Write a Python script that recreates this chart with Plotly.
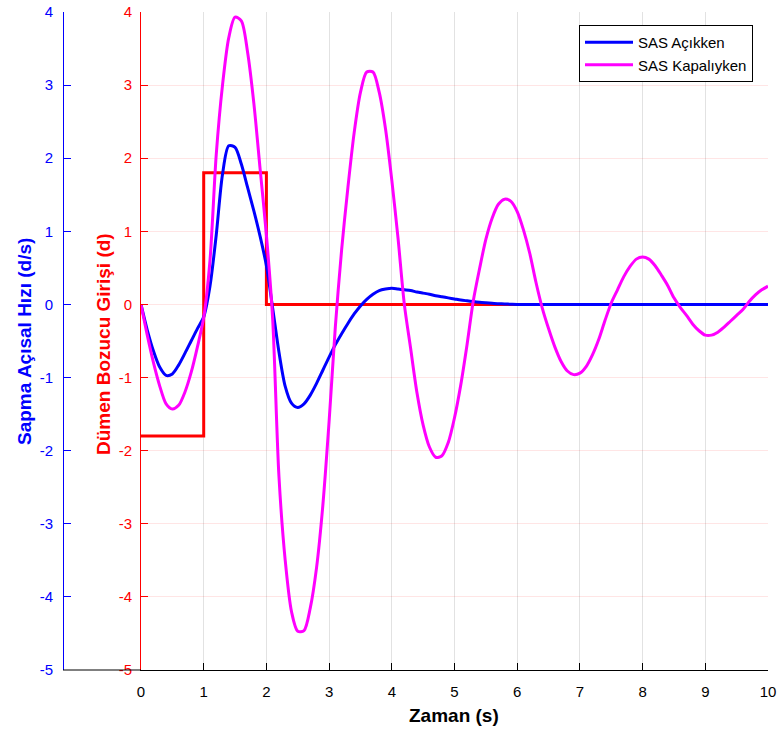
import plotly.graph_objects as go

# ---------------- data ----------------
x_ticks = [0, 1, 2, 3, 4, 5, 6, 7, 8, 9, 10]
x_tick_labels = ["0", "1", "2", "3", "4", "5", "6", "7", "8", "9", "10"]
y_ticks = [-5, -4, -3, -2, -1, 0, 1, 2, 3, 4]
y_tick_labels = ["-5", "-4", "-3", "-2", "-1", "0", "1", "2", "3", "4"]

# rudder disturbance input (step)
t_rudder = [0, 1, 2, 10]
v_rudder = [-1.8, 1.8, 0, 0]

# sample times for the yaw-rate curves (s)
t_samples = [0.0, 0.1, 0.2, 0.3, 0.4, 0.5, 0.6, 0.7, 0.8, 0.9,
             1.0, 1.1, 1.2, 1.3, 1.4, 1.5, 1.6, 1.7, 1.8, 1.9,
             2.0, 2.1, 2.2, 2.3, 2.4, 2.5, 2.6, 2.7, 2.8, 2.9,
             3.0, 3.1, 3.2, 3.3, 3.4, 3.5, 3.6, 3.7, 3.8, 3.9,
             4.0, 4.1, 4.2, 4.3, 4.4, 4.5, 4.6, 4.7, 4.8, 4.9,
             5.0, 5.1, 5.2, 5.3, 5.4, 5.5, 5.6, 5.7, 5.8, 5.9,
             6.0, 6.1, 6.2, 6.3, 6.4, 6.5, 6.6, 6.7, 6.8, 6.9,
             7.0, 7.1, 7.2, 7.3, 7.4, 7.5, 7.6, 7.7, 7.8, 7.9,
             8.0, 8.1, 8.2, 8.3, 8.4, 8.5, 8.6, 8.7, 8.8, 8.9,
             9.0, 9.1, 9.2, 9.3, 9.4, 9.5, 9.6, 9.7, 9.8, 9.9,
             10.0]

# yaw rate, SAS on (d/s)
v_sas_on = [0.0, -0.35, -0.64, -0.86, -0.97, -0.95, -0.83, -0.67, -0.5, -0.33,
            -0.17, 0.25, 0.95, 1.78, 2.17, 2.15, 1.92, 1.6, 1.28, 0.93,
            0.53, -0.05, -0.65, -1.12, -1.35, -1.41, -1.36, -1.24, -1.08, -0.9,
            -0.72, -0.55, -0.4, -0.26, -0.13, -0.02, 0.07, 0.14, 0.19, 0.21,
            0.22, 0.21, 0.2, 0.19, 0.17, 0.155, 0.14, 0.12, 0.105, 0.09,
            0.075, 0.06, 0.05, 0.04, 0.03, 0.022, 0.015, 0.01, 0.006, 0.003,
            0.0, 0.0, 0.0, 0.0, 0.0, 0.0, 0.0, 0.0, 0.0, 0.0,
            0.0, 0.0, 0.0, 0.0, 0.0, 0.0, 0.0, 0.0, 0.0, 0.0,
            0.0, 0.0, 0.0, 0.0, 0.0, 0.0, 0.0, 0.0, 0.0, 0.0,
            0.0, 0.0, 0.0, 0.0, 0.0, 0.0, 0.0, 0.0, 0.0, 0.0,
            0.0]

# yaw rate, SAS off (d/s)
v_sas_off = [0.0, -0.42, -0.8, -1.12, -1.36, -1.43, -1.38, -1.2, -0.93, -0.58,
             -0.18, 0.6, 2.05, 3.0, 3.65, 3.93, 3.88, 3.45, 2.75, 1.85,
             0.95, -0.2, -2.35, -3.5, -4.2, -4.47, -4.46, -4.15, -3.6, -2.75,
             -1.6, -0.3, 0.75, 1.6, 2.35, 2.9, 3.18, 3.18, 2.9, 2.4,
             1.7, 0.9, 0.0, -0.6, -1.2, -1.65, -1.95, -2.09, -2.07, -1.89,
             -1.55, -1.1, -0.55, 0.05, 0.49, 0.89, 1.18, 1.37, 1.44, 1.41,
             1.27, 1.02, 0.7, 0.3, -0.05, -0.33, -0.58, -0.78, -0.91, -0.96,
             -0.94, -0.85, -0.69, -0.48, -0.22, 0.02, 0.2, 0.38, 0.52, 0.62,
             0.65, 0.62, 0.53, 0.4, 0.26, 0.09, -0.04, -0.15, -0.27, -0.36,
             -0.42, -0.42, -0.38, -0.31, -0.23, -0.15, -0.07, 0.04, 0.13, 0.2,
             0.25]

# ---------------- layout constants (screen pixels) ----------------
W, H = 781, 730
PL, PR, PT, PB = 141, 768, 12, 670
BLUE_AXIS_X = 63
FONT = "Liberation Sans, Arial, sans-serif"


def px_x(p):
    return p / W


def px_y(p):
    return (PB - p) / (PB - PT)


fig = go.Figure()

fig.add_trace(go.Scatter(x=t_rudder, y=v_rudder, mode="lines", line_shape="hv",
                         line=dict(color="#ff0000", width=3), showlegend=False,
                         yaxis="y"))
fig.add_trace(go.Scatter(x=t_samples, y=v_sas_on, mode="lines", name="SAS Açıkken",
                         line=dict(color="#0000ff", width=3, shape="spline", smoothing=0.8),
                         yaxis="y2"))
fig.add_trace(go.Scatter(x=t_samples, y=v_sas_off, mode="lines", name="SAS Kapalıyken",
                         line=dict(color="#ff00ff", width=3, shape="spline", smoothing=0.8),
                         yaxis="y2"))

fig.update_layout(
    template="none",
    width=W, height=H, autosize=False,
    margin=dict(l=0, r=0, t=PT, b=H - PB, pad=0, autoexpand=False),
    paper_bgcolor="white", plot_bgcolor="white",
    font=dict(family=FONT, size=15, color="black"),
    xaxis=dict(domain=[PL / W, PR / W], range=[0, 10],
               tickvals=x_ticks, ticktext=x_tick_labels,
               automargin=False,
               ticks="inside", ticklen=7, tickcolor="black", tickwidth=1,
               showgrid=True, gridcolor="#e2e2e2", gridwidth=1,
               showline=True, linecolor="black", linewidth=1, zeroline=False,
               ticklabelstandoff=8, ticklabeloverflow="allow",
               tickfont=dict(size=15, color="black")),
    yaxis=dict(range=[-5, 4], tickvals=y_ticks, ticktext=y_tick_labels,
               anchor="x", automargin=False,
               ticks="inside", ticklen=7, tickcolor="#ff0000", tickwidth=1,
               showgrid=True, gridcolor="rgba(255,0,0,0.1)", gridwidth=1,
               showline=True, linecolor="#ff0000", linewidth=1, zeroline=False,
               ticklabeloverflow="allow",
               tickfont=dict(size=15, color="#ff0000"), ticklabelstandoff=5),
    yaxis2=dict(range=[-5, 4], tickvals=y_ticks, ticktext=y_tick_labels,
                overlaying="y", side="left",
                anchor="free", position=BLUE_AXIS_X / W, automargin=False,
                ticks="inside", ticklen=7, tickcolor="#0000ff", tickwidth=1,
                showgrid=False, showline=True, linecolor="#0000ff", linewidth=1,
                zeroline=False, ticklabeloverflow="allow",
                tickfont=dict(size=15, color="#0000ff"),
                ticklabelstandoff=7),
    legend=dict(x=px_x(753), xanchor="right", y=px_y(25), yanchor="top",
                bgcolor="white", bordercolor="black", borderwidth=1,
                font=dict(family=FONT, size=15, color="black"),
                itemwidth=48, tracegroupgap=0),
    annotations=[
        dict(text="<b>Zaman (s)</b>", xref="paper", yref="paper",
             x=px_x(454), y=px_y(715), showarrow=False,
             font=dict(family=FONT, size=19, color="black"),
             xanchor="center", yanchor="middle"),
        dict(text="<b>Sapma Açısal Hızı (d/s)</b>", xref="paper", yref="paper",
             x=px_x(24), y=px_y(342), showarrow=False, textangle=-90,
             font=dict(family=FONT, size=19, color="#0000ff"),
             xanchor="center", yanchor="middle"),
        dict(text="<b>Dümen Bozucu Girişi (d)</b>", xref="paper", yref="paper",
             x=px_x(103), y=px_y(344), showarrow=False, textangle=-90,
             font=dict(family=FONT, size=19, color="#ff0000"),
             xanchor="center", yanchor="middle"),
    ],
    shapes=[
        dict(type="line", xref="paper", yref="paper",
             x0=BLUE_AXIS_X / W, x1=PL / W, y0=0, y1=0,
             line=dict(color="black", width=1)),
    ],
)

# remove the browser's default 8px body margin so the figure fills the window
fig.write_html("out.html",
               config={"displayModeBar": False},
               post_script="document.body.style.margin='0';"
                           "document.body.style.overflow='hidden';")
